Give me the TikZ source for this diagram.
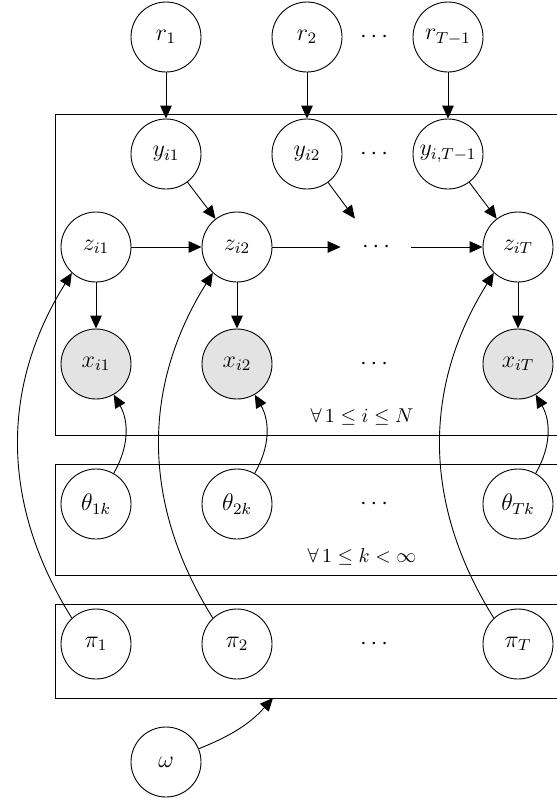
\documentclass[tikz,border=0pt]{standalone}
\usetikzlibrary{arrows.meta}
\begin{document}
\begin{tikzpicture}[x=0.5pt,y=-0.5pt,
  var/.style={circle,draw,line width=0.45pt,minimum size=35pt,inner sep=0pt,font=\large},
  obs/.style={var,fill=gray!22},
  dotn/.style={circle,minimum size=35pt,inner sep=0pt,font=\large},
  arr/.style={-{Triangle[length=6.5pt,width=5.8pt]},line width=0.45pt},
  plate/.style={draw,line width=0.45pt},
  platelabel/.style={inner sep=0pt}]
\useasboundingbox (0,0) rectangle (557,799);
\clip (0,0) rectangle (557,799);
% plates
\draw[plate] (620,114) -- (55,114) -- (55,435) -- (620,435);
\draw[plate] (620,464) -- (55,464) -- (55,575) -- (620,575);
\draw[plate] (620,604) -- (55,604) -- (55,698) -- (620,698);
\node[platelabel] (lab1) at (362,417) {$\forall\, 1 \le i \le N$};
\node[platelabel] (lab2) at (362,557) {$\forall\, 1 \le k < \infty$};
\coordinate (platebot) at (273,698);
% r row
\node[var] (r1) at (166,37) {$r_1$};
\node[var] (r2) at (307,37) {$r_2$};
\node[dotn] (rd) at (374,37) {$\cdots$};
\node[var] (rT) at (448,37) {$r_{T-1}$};
% y row
\node[var] (y1) at (166,154) {$y_{i1}$};
\node[var] (y2) at (307,154) {$y_{i2}$};
\node[dotn] (yd) at (374,154) {$\cdots$};
\node[var] (yT) at (448,154) {$y_{i,T-1}$};
% z row
\node[var] (z1) at (96,247) {$z_{i1}$};
\node[var] (z2) at (237,247) {$z_{i2}$};
\node[dotn] (zd) at (376,247) {$\cdots$};
\node[var] (zT) at (518,247) {$z_{iT}$};
% x row
\node[obs] (x1) at (96,364) {$x_{i1}$};
\node[obs] (x2) at (237,364) {$x_{i2}$};
\node[dotn] (xd) at (374,364) {$\cdots$};
\node[obs] (xT) at (518,364) {$x_{iT}$};
% theta row
\node[var] (t1) at (96,504) {$\theta_{1k}$};
\node[var] (t2) at (237,504) {$\theta_{2k}$};
\node[dotn] (td) at (374,504) {$\cdots$};
\node[var] (tT) at (518,504) {$\theta_{Tk}$};
% pi row
\node[var] (p1) at (96,644) {$\pi_1$};
\node[var] (p2) at (237,644) {$\pi_2$};
\node[dotn] (pd) at (374,644) {$\cdots$};
\node[var] (pT) at (518,644) {$\pi_T$};
% omega
\node[var] (om) at (166,762) {$\omega$};
% edges
\draw[arr] (r1) -- (y1);
\draw[arr] (r2) -- (y2);
\draw[arr] (rT) -- (yT);
\draw[arr] (y1) -- (z2);
\draw[arr] (y2) -- (zd);
\draw[arr] (yT) -- (zT);
\draw[arr] (z1) -- (z2);
\draw[arr] (z2) -- (zd);
\draw[arr] (zd) -- (zT);
\draw[arr] (z1) -- (x1);
\draw[arr] (z2) -- (x2);
\draw[arr] (zT) -- (xT);
\draw[arr] (t1) to[out=60,in=-60] (x1);
\draw[arr] (t2) to[out=60,in=-60] (x2);
\draw[arr] (tT) to[out=60,in=-60] (xT);
\draw[arr] (p1.133) to[out=122,in=-122] (z1.-133);
\draw[arr] (p2.133) to[out=122,in=-122] (z2.-133);
\draw[arr] (pT.133) to[out=122,in=-122] (zT.-133);
\draw[arr] (om) to[out=22,in=-132] (platebot);
\end{tikzpicture}
\end{document}
